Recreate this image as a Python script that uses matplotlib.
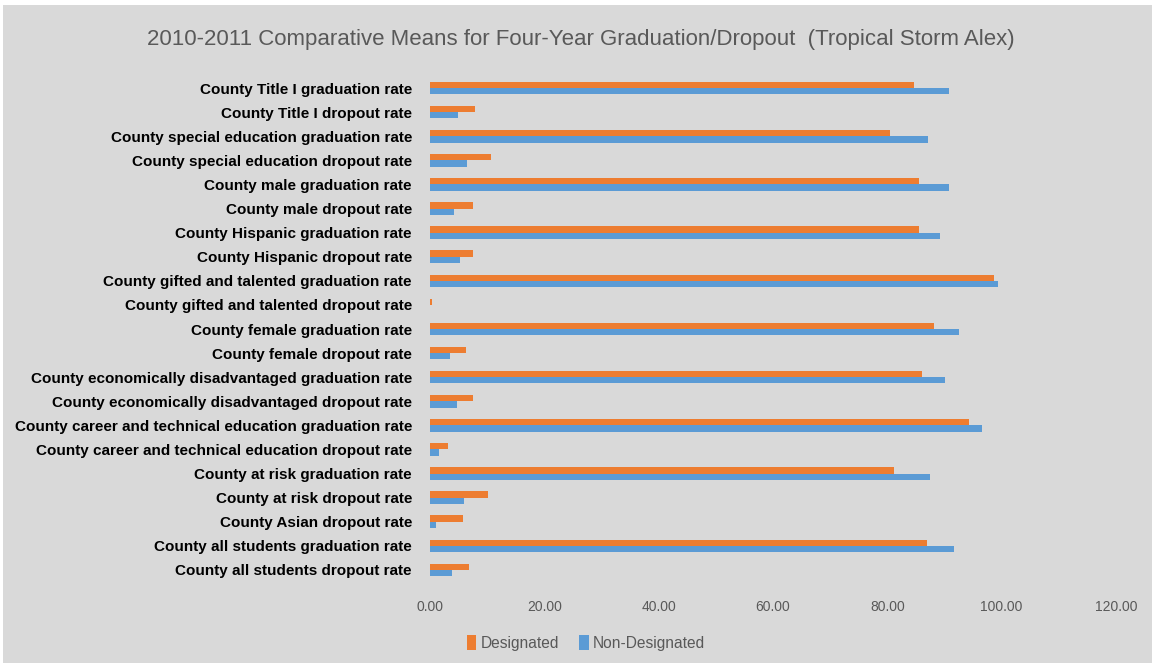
import matplotlib
matplotlib.use("Agg")
import matplotlib.pyplot as plt
from matplotlib.patches import Rectangle
import numpy as np

categories = [
    "County Title I graduation rate",
    "County Title I dropout rate",
    "County special education graduation rate",
    "County special education dropout rate",
    "County male graduation rate",
    "County male dropout rate",
    "County Hispanic graduation rate",
    "County Hispanic dropout rate",
    "County gifted and talented graduation rate",
    "County gifted and talented dropout rate",
    "County female graduation rate",
    "County female dropout rate",
    "County economically disadvantaged graduation rate",
    "County economically disadvantaged dropout rate",
    "County career and technical education graduation rate",
    "County career and technical education dropout rate",
    "County at risk graduation rate",
    "County at risk dropout rate",
    "County Asian dropout rate",
    "County all students graduation rate",
    "County all students dropout rate",
]

designated = [84.7, 7.9, 80.4, 10.7, 85.5, 7.5, 85.5, 7.5, 98.6, 0.3,
              88.2, 6.3, 86.1, 7.5, 94.3, 3.1, 81.2, 10.2, 5.7, 86.9, 6.8]
non_designated = [90.8, 4.9, 87.1, 6.4, 90.8, 4.2, 89.2, 5.3, 99.3, 0.0,
                  92.6, 3.5, 90.1, 4.7, 96.6, 1.6, 87.5, 5.9, 1.05, 91.6, 3.9]

x_ticks = [0, 20, 40, 60, 80, 100, 120]
x_tick_labels = ["0.00", "20.00", "40.00", "60.00", "80.00", "100.00", "120.00"]

title = "2010-2011 Comparative Means for Four-Year Graduation/Dropout  (Tropical Storm Alex)"

ORANGE = "#ED7D31"
BLUE = "#5B9BD5"
BG = "#D9D9D9"
TXT = "#595959"

W, H = 1155, 668
fig = plt.figure(figsize=(W / 100, H / 100), dpi=100, facecolor="white")
bg = Rectangle((3 / W, 1 - 663 / H), (1152 - 3) / W, (663 - 5) / H,
               transform=fig.transFigure, facecolor=BG, edgecolor="none",
               zorder=-10)
fig.add_artist(bg)

ax = fig.add_axes([430 / W, 1 - 582 / H, (1116 - 430) / W, (582 - 76) / H])
ax.patch.set_visible(False)
ax.set_zorder(1)

y = np.arange(len(categories))
h = 0.26
ax.barh(y - h / 2, designated, height=h, color=ORANGE, label="Designated")
ax.barh(y + h / 2, non_designated, height=h, color=BLUE, label="Non-Designated")

ax.set_ylim(len(categories) - 0.5, -0.5)
ax.set_xlim(0, 120)
ax.set_xticks(x_ticks)
ax.set_xticklabels(x_tick_labels, color=TXT, fontsize=10, family="Liberation Sans")
ax.set_yticks(y)
ax.set_yticklabels(categories, fontsize=11, fontweight="bold", color="black",
                   family="Liberation Sans")
ax.tick_params(axis="y", length=0, pad=13)
ax.tick_params(axis="x", length=0, pad=13)
for s in ax.spines.values():
    s.set_visible(False)

fig.text(581 / W, 1 - 40 / H, title, ha="center", va="center", fontsize=16,
         color=TXT, family="Liberation Sans", zorder=2)

leg = fig.legend(loc="center", bbox_to_anchor=(586 / W, 1 - 643 / H), ncol=2,
                 frameon=False, handlelength=0.6, handleheight=1.1,
                 handletextpad=0.3, columnspacing=1.3,
                 prop={"family": "Liberation Sans", "size": 11.2})
for t in leg.get_texts():
    t.set_color(TXT)

fig.savefig("out.png", dpi=100, facecolor="white")
